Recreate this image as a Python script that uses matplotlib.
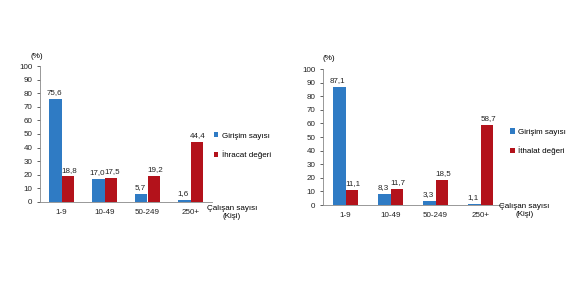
import matplotlib
matplotlib.use("Agg")
import matplotlib.pyplot as plt
import numpy as np

plt.rcParams['font.family'] = ['Liberation Sans', 'DejaVu Sans']

categories = ['1-9', '10-49', '50-249', '250+']
girisim_ihr = [75.6, 17.0, 5.7, 1.6]
ihracat = [18.8, 17.5, 19.2, 44.4]
girisim_ith = [87.1, 8.3, 3.3, 1.1]
ithalat = [11.1, 11.7, 18.5, 58.7]

blue = '#2F7BC4'
red = '#B3121B'

W, H = 570, 285
fig = plt.figure(figsize=(W / 100, H / 100), dpi=100)


def px_axes(x0, x1, ybase, ytop):
    return fig.add_axes([x0 / W, (H - ybase) / H, (x1 - x0) / W, (ybase - ytop) / H])


def draw(ax, s1, s2, lab1, lab2, leg_xy, pct_xy, cal_xy):
    x = np.arange(len(categories))
    w = 0.28
    b1 = ax.bar(x - w / 2, s1, w, color=blue, label=lab1)
    b2 = ax.bar(x + w / 2, s2, w, color=red, label=lab2)
    for bars, vals, dx in ((b1, s1, -0.03), (b2, s2, 0.03)):
        for r, v in zip(bars, vals):
            ax.text(r.get_x() + r.get_width() / 2 + dx, v + 2, f'{v:.1f}'.replace('.', ','),
                    ha='center', va='bottom', fontsize=5.8, color='#222222')
    ax.set_xlim(-0.5, 3.5)
    ax.set_ylim(0, 100)
    ax.set_yticks(range(0, 101, 10))
    ax.set_xticks(x)
    ax.set_xticklabels(categories)
    ax.tick_params(axis='both', labelsize=5.8, colors='#222222', length=2, width=0.5)
    ax.tick_params(axis='x', length=0, pad=5)
    for s in ('top', 'right'):
        ax.spines[s].set_visible(False)
    for s in ('left', 'bottom'):
        ax.spines[s].set_color('#888888')
        ax.spines[s].set_linewidth(0.6)
    ax.legend(loc='center left', bbox_to_anchor=leg_xy, frameon=False, fontsize=5.8,
              handlelength=0.6, handleheight=0.6, handletextpad=0.4, labelspacing=1.3,
              borderaxespad=0)
    ax.text(pct_xy[0], pct_xy[1], '(%)', transform=ax.transAxes, ha='center',
            va='center', fontsize=5.8)
    ax.text(cal_xy[0], cal_xy[1], 'Çalışan sayısı\n(Kişi)', transform=ax.transAxes,
            ha='center', va='center', fontsize=5.8, linespacing=1.2)


ax1 = px_axes(40, 212, 202, 66)
draw(ax1, girisim_ihr, ihracat, 'Girişim sayısı', 'İhracat değeri',
     (0.99, 0.415), (-0.02, 1.07), (1.116, -0.074))

ax2 = px_axes(323, 503, 205, 69)
draw(ax2, girisim_ith, ithalat, 'Girişim sayısı', 'İthalat değeri',
     (1.02, 0.465), (0.03, 1.08), (1.12, -0.04))

fig.savefig('out.png', dpi=100)
